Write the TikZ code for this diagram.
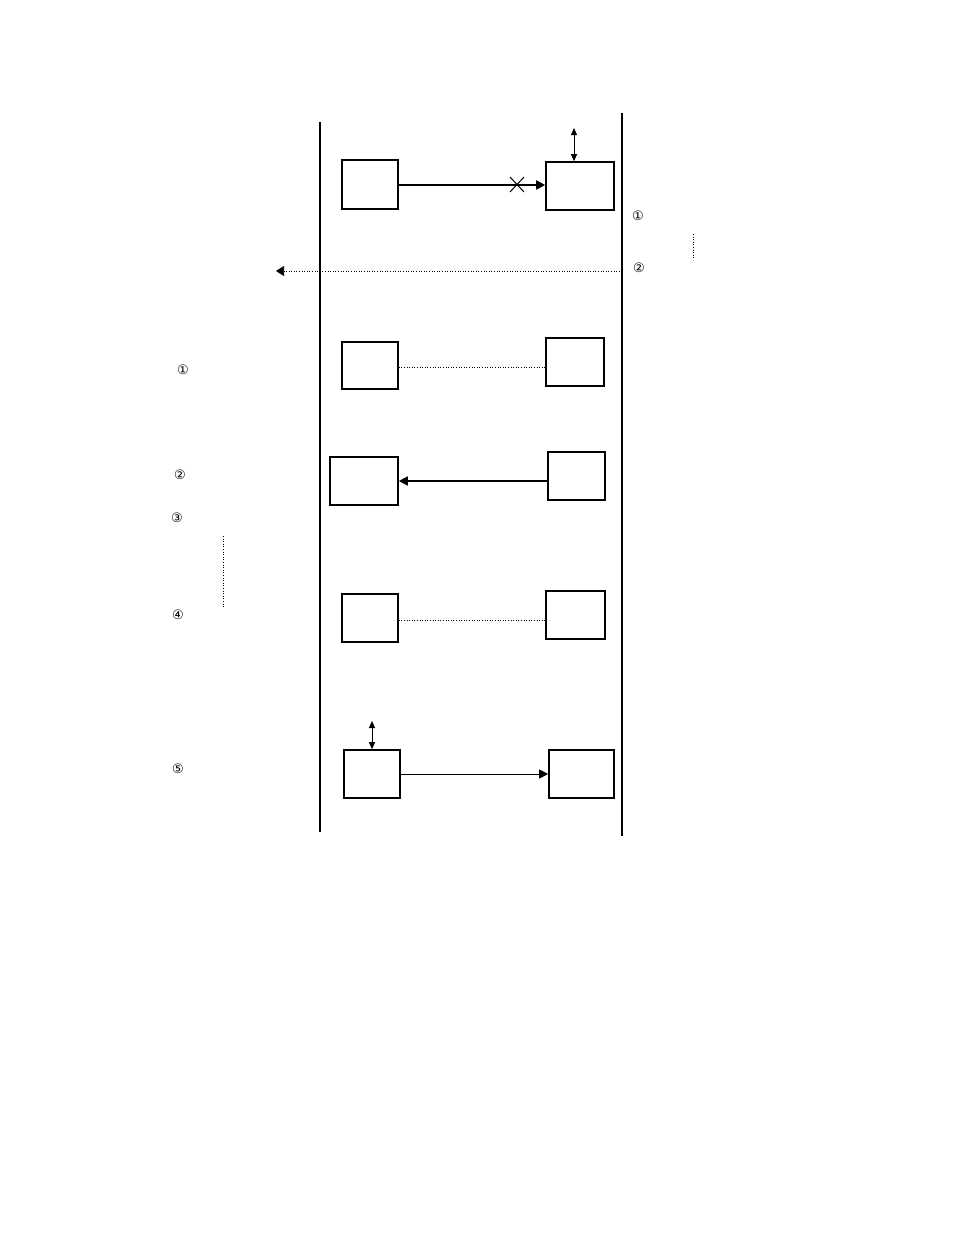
\documentclass[tikz,border=0pt]{standalone}
\usepackage{fontspec}
\newfontfamily\circfont{DejaVu Sans}
\usetikzlibrary{arrows.meta}

\begin{document}
\begin{tikzpicture}[x=1pt,y=-1pt,
    box/.style={draw,line width=1.6pt,inner sep=0pt},
    lane/.style={line width=1.8pt},
    num/.style={font=\circfont\fontsize{13}{13}\selectfont,inner sep=0pt},
    dotline/.style={dotted,line width=0.6pt},
    tip/.style={-{Triangle[length=9pt,width=9pt]}},
    dbl/.style={{Triangle[length=7pt,width=6pt]}-{Triangle[length=7pt,width=6pt]},line width=1pt}]
  \useasboundingbox (0,0) rectangle (954,1235);

  % 左右两条泳道线
  \draw[lane] (320,122) -- (320,832);
  \draw[lane] (622,113) -- (622,836);

  % 方框
  \foreach \n/\xa/\ya/\xb/\yb in {a1/342/160/398/209, b1/546/162/614/210,
      a2/342/342/398/389, b2/546/338/604/386,
      a3/330/457/398/505, b3/548/452/605/500,
      a4/342/594/398/642, b4/546/591/605/639,
      a5/344/750/400/798, b5/549/750/614/798}
    \node[box,minimum width=\xb-\xa,minimum height=\yb-\ya]
      (\n) at ({(\xa+\xb)/2},{(\ya+\yb)/2}) {};

  % 编号
  \node[num] (r1) at (638,216) {①};
  \node[num] (r2) at (639,268) {②};
  \node[num] (l1) at (183,370) {①};
  \node[num] (l2) at (180,475) {②};
  \node[num] (l3) at (177,518) {③};
  \node[num] (l4) at (178,615) {④};
  \node[num] (l5) at (178,769) {⑤};

  % 连线
  \draw[tip,line width=1.8pt] (a1.east |- 0,185) -- (b1.west |- 0,185);
  \draw[line width=1pt] (510,177) -- (524,192) (510,192) -- (524,177);
  \coordinate (t1) at (b1.north -| 574,0);
  \coordinate (t1e) at (574,128);
  \draw[dbl] (t1e) -- (t1);

  \coordinate (ds) at (622,271);
  \coordinate (de) at (276,271);
  \draw[dotline,-{Triangle[length=8pt,width=10pt]}] (ds) -- (de);

  \draw[dotline] (a2.east |- 0,367) -- (b2.west |- 0,367);
  \draw[tip,line width=1.6pt] (b3.west |- 0,481) -- (a3.east |- 0,481);
  \draw[dotline] (a4.east |- 0,620) -- (b4.west |- 0,620);
  \draw[tip,line width=1pt] (a5.east) -- (b5.west);
  \coordinate (t5) at (a5.north -| 372,0);
  \coordinate (t5e) at (372,721);
  \draw[dbl] (t5e) -- (t5);

  % 虚线短竖
  \coordinate (v1a) at (693,234);
  \coordinate (v1b) at (693,260);
  \draw[dotline] (v1a) -- (v1b);
  \coordinate (v2a) at (223,536);
  \coordinate (v2b) at (223,607);
  \draw[dotline] (v2a) -- (v2b);

\end{tikzpicture}
\end{document}
